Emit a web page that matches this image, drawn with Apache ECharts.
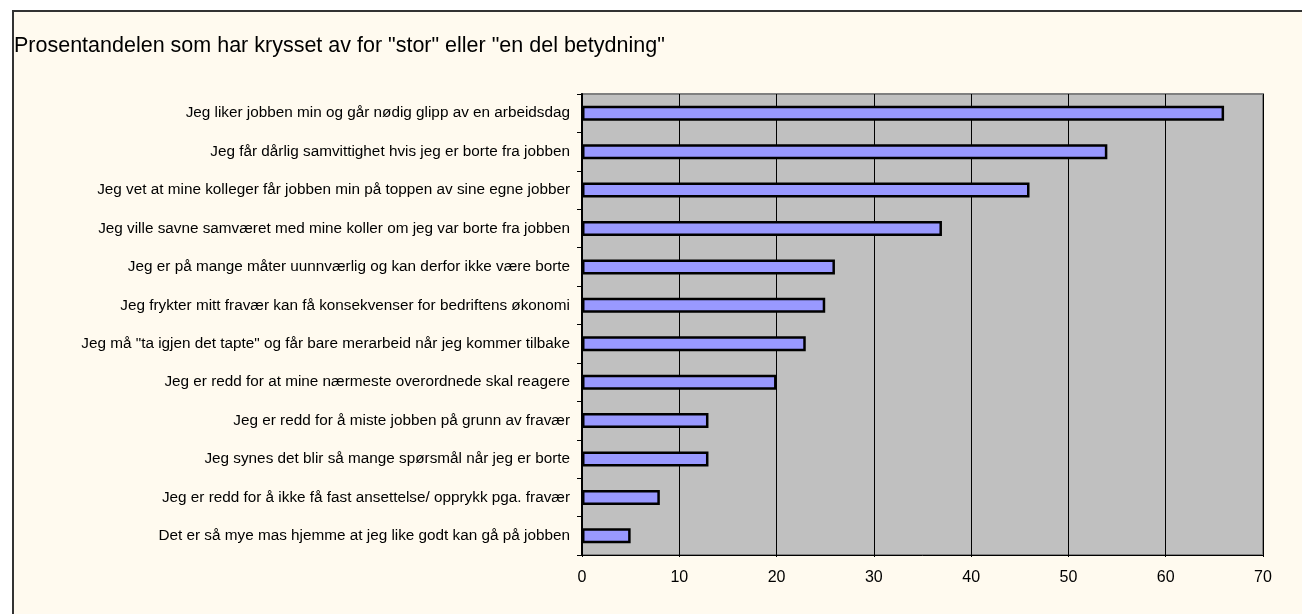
<!DOCTYPE html>
<html>
<head>
<meta charset="utf-8">
<script src="https://cdn.jsdelivr.net/npm/echarts@6/dist/echarts.min.js"></script>
<style>
html,body{margin:0;padding:0;background:#ffffff;overflow:hidden;width:1302px;height:614px;}
#frame{position:absolute;left:12px;top:10px;width:1400px;height:700px;border:2px solid #333;background:#FFFAEF;}
#chart{position:absolute;left:0;top:0;width:1302px;height:614px;}
</style>
</head>
<body>
<div id="frame"></div>
<div id="chart"></div>
<script>
const titleText = 'Prosentandelen som har krysset av for "stor" eller "en del betydning"';
const categories = [
  'Jeg liker jobben min og går nødig glipp av en arbeidsdag',
  'Jeg får dårlig samvittighet hvis jeg er borte fra jobben',
  'Jeg vet at mine kolleger får jobben min på toppen av sine egne jobber',
  'Jeg ville savne samværet med mine koller om jeg var borte fra jobben',
  'Jeg er på mange måter uunnværlig og kan derfor ikke være borte',
  'Jeg frykter mitt fravær kan få konsekvenser for bedriftens økonomi',
  'Jeg må "ta igjen det tapte" og får bare merarbeid når jeg kommer tilbake',
  'Jeg er redd for at mine nærmeste overordnede skal reagere',
  'Jeg er redd for å miste jobben på grunn av fravær',
  'Jeg synes det blir så mange spørsmål når jeg er borte',
  'Jeg er redd for å ikke få fast ansettelse/ opprykk pga. fravær',
  'Det er så mye mas hjemme at jeg like godt kan gå på jobben'
];
const values = [66, 54, 46, 37, 26, 25, 23, 20, 13, 13, 8, 5];
const xMin = 0, xMax = 70, xStep = 10;

const FONT = '"Liberation Sans", Arial, sans-serif';
const chart = echarts.init(document.getElementById('chart'), null, {renderer: 'canvas'});
chart.setOption({
  backgroundColor: 'transparent',
  animation: false,
  textStyle: {fontFamily: FONT},
  title: {
    text: titleText,
    left: 9, top: 30,
    textStyle: {fontSize: 21.5, fontWeight: 'normal', color: '#000', fontFamily: FONT}
  },
  grid: {
    left: 582, right: 39, top: 94, bottom: 59,
    show: true, backgroundColor: '#C0C0C0', borderColor: '#808080', borderWidth: 2
  },
  xAxis: {
    type: 'value', min: xMin, max: xMax, interval: xStep,
    axisLine: {show: true, lineStyle: {color: '#000', width: 1}},
    axisTick: {show: true, length: 2, lineStyle: {color: '#000'}},
    splitLine: {show: true, lineStyle: {color: '#000', width: 1}},
    axisLabel: {color: '#000', fontSize: 16, margin: 15, fontFamily: FONT}
  },
  yAxis: {
    type: 'category', data: categories, inverse: true,
    axisLine: {show: true, lineStyle: {color: '#000', width: 2}},
    axisTick: {show: true, length: 5, alignWithLabel: false, lineStyle: {color: '#000'}},
    axisLabel: {color: '#000', fontSize: 15.3, margin: 12, fontFamily: FONT}
  },
  series: [{
    type: 'bar',
    data: values,
    barWidth: 15,
    itemStyle: {color: '#9999FF', borderColor: '#000', borderWidth: 2.5}
  }]
});
</script>
</body>
</html>
